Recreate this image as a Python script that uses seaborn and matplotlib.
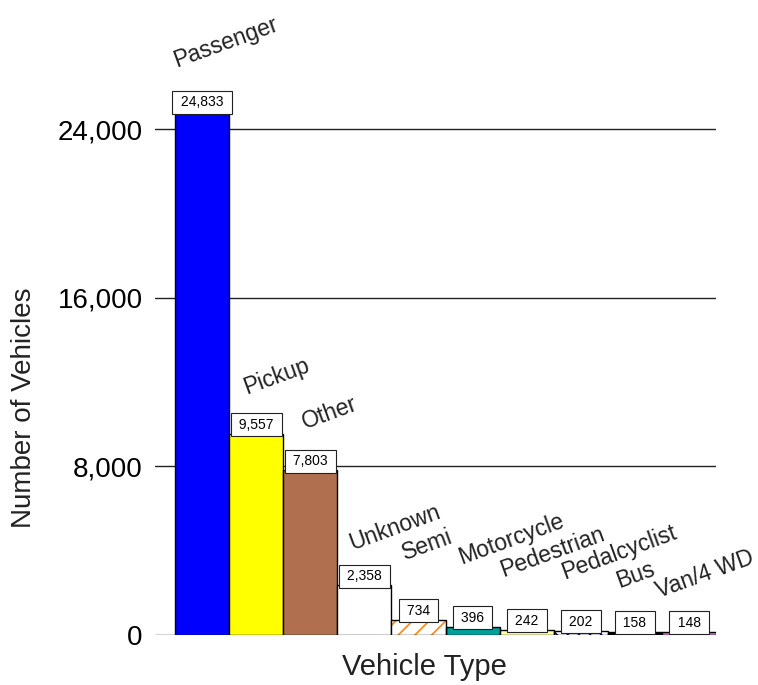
import matplotlib
matplotlib.use("Agg")
import matplotlib.pyplot as plt
import seaborn as sns
import pandas as pd
from matplotlib.patches import Rectangle

# ================= data ================= #
vehicle_types = ["Passenger", "Pickup", "Other", "Unknown", "Semi", "Motorcycle",
                 "Pedestrian", "Pedalcyclist", "Bus", "Van/4 WD"]
vehicle_counts = [24833, 9557, 7803, 2358, 734, 396, 242, 202, 158, 148]
y_ticks = [0, 8000, 16000, 24000]

# ================= style ================= #
bar_colors = ["#0000FF", "#FFFF00", "#B07050", "#FFFFFF", "#FFFFFF", "#00A09A",
              "#FFFFA8", "#FFFFFF", "#000000", "#D070D8"]
hatches = {"Semi": ("//", "#FF8C1A"), "Pedalcyclist": ("\\\\\\", "#000080")}
# label offsets from bar top-left corner, in pixels
label_offsets = [(1, 44), (17, 39), (22, 41), (15, 35), (14, 60), (16, 62),
                 (4, 53), (11, 51), (11, 44), (-3, 34)]

df = pd.DataFrame({"type": vehicle_types, "count": vehicle_counts})

sns.set_theme(style="white")
plt.rcParams["font.family"] = ["Liberation Sans", "DejaVu Sans"]
plt.rcParams["hatch.linewidth"] = 1.3

fig = plt.figure(figsize=(7.58, 6.85), dpi=100)
ax = fig.add_axes([155 / 758, 50 / 685, 561 / 758, 590.3 / 685])

sns.barplot(data=df, x="type", y="count", hue="type", palette=bar_colors,
            width=1, edgecolor="black", linewidth=1, legend=False,
            saturation=1, ax=ax)

ax.set_xlim(-0.5 - 20 / 54.1, 9.5)
ax.set_ylim(0, 28000)
ax.set_yticks(y_ticks)
ax.set_yticklabels([f"{t:,}" for t in y_ticks], fontsize=20, color="black")
ax.tick_params(axis="y", length=0, pad=9)
ax.set_xticks([])
ax.set_axisbelow(True)
ax.yaxis.grid(True, color="#222222", linewidth=1)
for s in ax.spines.values():
    s.set_visible(False)

ax.set_ylabel("Number of Vehicles", fontsize=20, color="#222222")
ax.yaxis.set_label_coords(-0.21, 0.385)
ax.set_xlabel("Vehicle Type", fontsize=21, color="#222222")
ax.xaxis.set_label_coords(0.48, -0.03)

patches = sorted(ax.patches, key=lambda p: p.get_x())
for p, name, val, (dx, dy) in zip(patches, vehicle_types, vehicle_counts, label_offsets):
    if name in hatches:
        h, hc = hatches[name]
        p.set_hatch(h)
        p.set_edgecolor(hc)
        p.set_linewidth(0)
        ax.add_patch(Rectangle((p.get_x(), 0), p.get_width(), p.get_height(),
                               fill=False, edgecolor="black", linewidth=1,
                               zorder=p.get_zorder() + 0.1))
    cx = p.get_x() + p.get_width() / 2
    ax.annotate(f" {val:,} ", (cx, val), xytext=(0, 2), textcoords="offset pixels",
                ha="center", va="bottom", fontsize=10, color="black",
                bbox=dict(boxstyle="square,pad=0.32", fc="white", ec="#222222", lw=0.8))
    ax.annotate(name, (p.get_x(), val), xytext=(dx, dy), textcoords="offset pixels",
                ha="left", va="baseline", rotation=20, rotation_mode="anchor",
                fontsize=16.5, color="#222222", annotation_clip=False)

fig.savefig("out.png", dpi=100)
